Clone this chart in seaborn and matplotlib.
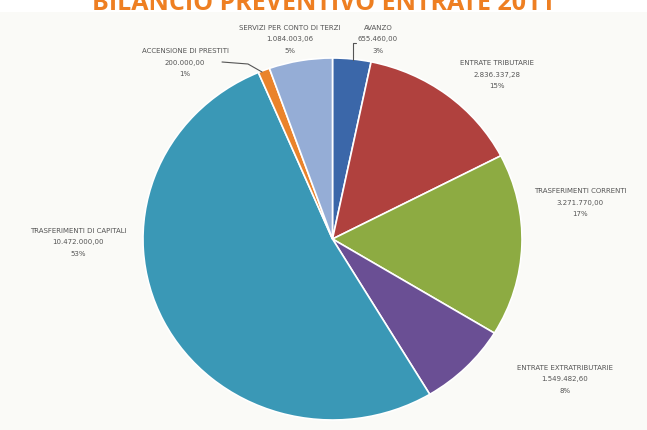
import matplotlib
matplotlib.use("Agg")
import matplotlib.pyplot as plt
import seaborn as sns
from matplotlib.patches import Rectangle

# Data (Bilancio preventivo entrate 2011)
categories = [
    "AVANZO",
    "ENTRATE TRIBUTARIE",
    "TRASFERIMENTI CORRENTI",
    "ENTRATE EXTRATRIBUTARIE",
    "TRASFERIMENTI DI CAPITALI",
    "ACCENSIONE DI PRESTITI",
    "SERVIZI PER CONTO DI TERZI",
]
values = [655460.00, 2836337.28, 3271770.00, 1549482.60, 10472000.00, 200000.00, 1084003.06]
value_labels = ["655.460,00", "2.836.337,28", "3.271.770,00", "1.549.482,60",
                "10.472.000,00", "200.000,00", "1.084.003,06"]
pct_labels = ["3%", "15%", "17%", "8%", "53%", "1%", "5%"]

colors = ["#3b67a9", "#b0413e", "#8dab42", "#6a4f94", "#3a98b6", "#ea832b", "#95add6"]

# label centres in pixels (x, y of the top line)
label_pos = [(378, 25), (497, 60), (580, 188), (565, 365), (78, 228), (185, 48), (290, 25)]

W, H = 647, 430
sns.set_theme(style="white")
plt.rcParams["font.family"] = ["DejaVu Sans"]

fig = plt.figure(figsize=(W / 100, H / 100), dpi=100)
fig.patch.set_facecolor("white")
# light chart background below the title
fig.patches.append(Rectangle((0, 0), 1, 1 - 12 / H, transform=fig.transFigure,
                             facecolor="#fafaf7", edgecolor="none", zorder=-5))

# pie area in pixels: x 143..522, y 58..420
ax = fig.add_axes([143 / W, 1 - 420 / H, 379 / W, 362 / H])
ax.set_zorder(2)
ax.pie(values, colors=colors, startangle=90, counterclock=False,
       wedgeprops=dict(edgecolor="white", linewidth=1.2))
ax.set_aspect("auto")
ax.set_xlim(-1, 1)
ax.set_ylim(-1, 1)
ax.axis("off")

for name, val, pct, (px, py) in zip(categories, value_labels, pct_labels, label_pos):
    fig.text(px / W, 1 - py / H, f"{name}\n{val}\n{pct}", ha="center", va="top",
             fontsize=5, color="#555555", linespacing=2.1, zorder=3)

# leader lines
fig.lines.append(plt.Line2D([356 / W, 353 / W, 353 / W], [1 - 43 / H, 1 - 43 / H, 1 - 60 / H],
                            transform=fig.transFigure, color="#555555", lw=0.8, zorder=3))
fig.lines.append(plt.Line2D([222 / W, 248 / W, 262 / W], [1 - 62 / H, 1 - 64 / H, 1 - 72 / H],
                            transform=fig.transFigure, color="#555555", lw=0.8, zorder=3))

# title, cut off at the top edge like the reference
fig.text(0.5, 1 - 10 / H, "BILANCIO PREVENTIVO ENTRATE 2011", ha="center", va="baseline",
         fontsize=18, fontweight="bold", color="#ee7f22", family=["Open Sans", "DejaVu Sans"],
         zorder=3)

plt.savefig("out.png", dpi=100)
plt.close()
